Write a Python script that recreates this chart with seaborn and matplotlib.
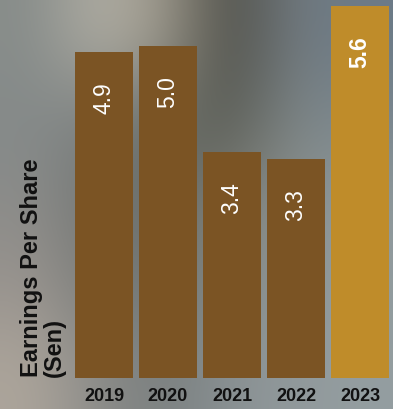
import numpy as np
import pandas as pd
import matplotlib
matplotlib.use("Agg")
import matplotlib.pyplot as plt
import seaborn as sns

years = ["2019", "2020", "2021", "2022", "2023"]
eps = [4.9, 5.0, 3.4, 3.3, 5.6]
labels = ["4.9", "5.0", "3.4", "3.3", "5.6"]
bar_colors = ["#7B5424", "#7B5424", "#7B5424", "#7B5424", "#BF8C2A"]
y_title = "Earnings Per Share\n(Sen)"

sns.set_theme(style="white")
plt.rcParams["font.family"] = ["Liberation Sans", "DejaVu Sans"]

fig = plt.figure(figsize=(3.93, 4.09), dpi=100)

# blurred photographic-like background
bg = np.array([
    [[0.53, 0.55, 0.54], [0.70, 0.69, 0.65], [0.62, 0.60, 0.55], [0.30, 0.30, 0.27], [0.45, 0.48, 0.50], [0.42, 0.48, 0.53]],
    [[0.52, 0.54, 0.54], [0.48, 0.50, 0.50], [0.40, 0.42, 0.40], [0.35, 0.36, 0.33], [0.50, 0.53, 0.53], [0.48, 0.53, 0.56]],
    [[0.55, 0.55, 0.54], [0.45, 0.46, 0.45], [0.42, 0.43, 0.41], [0.50, 0.50, 0.47], [0.55, 0.57, 0.56], [0.56, 0.60, 0.61]],
    [[0.60, 0.58, 0.56], [0.48, 0.49, 0.48], [0.44, 0.46, 0.45], [0.52, 0.54, 0.53], [0.56, 0.59, 0.59], [0.57, 0.61, 0.62]],
    [[0.68, 0.65, 0.61], [0.55, 0.55, 0.54], [0.48, 0.50, 0.50], [0.54, 0.57, 0.58], [0.57, 0.60, 0.61], [0.58, 0.62, 0.63]],
])
bgax = fig.add_axes([0, 0, 1, 1], zorder=0)
bgax.imshow(bg, aspect="auto", interpolation="bicubic", extent=[0, 1, 0, 1])
bgax.set_axis_off()

ax = fig.add_axes([72 / 393, 31 / 409, 320 / 393, 378 / 409], zorder=1)
ax.patch.set_alpha(0)
df = pd.DataFrame({"year": years, "eps": eps})
sns.barplot(data=df, x="year", y="eps", hue="year", palette=bar_colors,
            width=0.906, saturation=1, legend=False, linewidth=0, ax=ax)
ax.set_xlim(-0.5, 4.5)
ax.set_ylim(0, 5.69)
for s in ax.spines.values():
    s.set_visible(False)
ax.set_yticks([])
ax.set_xlabel("")
ax.set_ylabel("")
ax.tick_params(axis="x", length=0, pad=7)
for t in ax.get_xticklabels():
    t.set_fontsize(13)
    t.set_fontweight("bold")
    t.set_color("#111111")

for i, (v, lab) in enumerate(zip(eps, labels)):
    ax.annotate(lab, xy=(i, v), xytext=(0, -33), textcoords="offset points",
                ha="center", va="center", rotation=90, color="white",
                fontsize=16.5, fontweight="bold" if i == len(eps) - 1 else "normal")

fig.text(43 / 393, 32 / 409, y_title, rotation=90, ha="center", va="bottom",
         multialignment="left", fontsize=17, fontweight="bold", color="#111111",
         linespacing=0.95, zorder=2)

fig.savefig("out.png", dpi=100)
